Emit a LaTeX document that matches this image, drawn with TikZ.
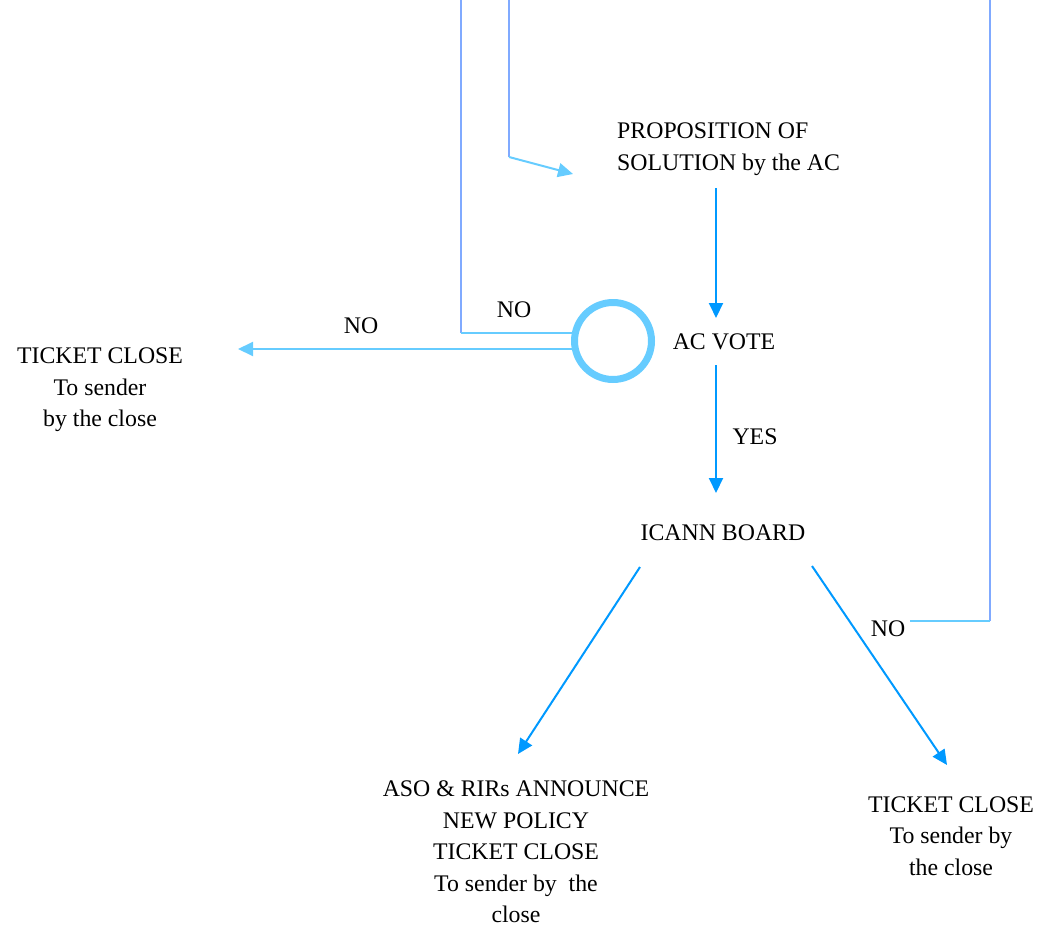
\documentclass[tikz,border=0pt]{standalone}
\usepackage{fontspec}
\setmainfont{Liberation Serif}
\newfontfamily\serf{Liberation Serif}
\usetikzlibrary{arrows.meta}
\definecolor{peri}{HTML}{80AAFF}
\definecolor{lblue}{HTML}{66CCFF}
\definecolor{dblue}{HTML}{0099FF}
\tikzset{
  txt/.style={font=\serf\fontsize{23.8}{31.5}\selectfont, align=center, inner sep=0pt},
  lbl/.style={font=\serf\fontsize{23.8}{31.5}\selectfont, inner sep=0pt},
  tip/.style={-{Triangle[length=15pt,width=14pt]}},
  darr/.style={tip, draw=dblue, fill=dblue, line width=2pt},
  larr/.style={tip, draw=lblue, fill=lblue, line width=2pt},
  pline/.style={draw=peri, line width=2pt},
  lline/.style={draw=lblue, line width=2pt},
}
\begin{document}
\begin{tikzpicture}[x=1pt,y=-1pt]
\useasboundingbox (0,0) rectangle (1043,926);
% text nodes
\node[txt, align=left, anchor=west] (prop) at (617,149) {PROPOSITION OF\\SOLUTION by the AC};
\node[txt] (acvote) at (724,342) {AC VOTE};
\node[txt] (icann) at (723,533) {ICANN BOARD};
\node[txt] (leftclose) at (100,390) {TICKET CLOSE\\To sender\\by the close};
\node[txt] (aso) at (516,852) {ASO \& RIRs ANNOUNCE\\NEW POLICY\\TICKET CLOSE\\To sender by\ \ the\\close};
\node[txt] (rightclose) at (951,836) {TICKET CLOSE\\To sender by\\the close};
% labels
\node[lbl] (noleft) at (361,326) {NO};
\node[lbl] (noloop) at (514,310) {NO};
\node[lbl] (yes) at (755,437) {YES};
\node[lbl] (noright) at (888,629) {NO};
% coordinates
\coordinate (topA) at (461,0);
\coordinate (cornA) at (461,333);
\coordinate (inA) at (590,333);
\coordinate (topB) at (509,0);
\coordinate (cornB) at (509,157);
\coordinate (tipB) at (573,174);
\coordinate (topC) at (990,0);
\coordinate (cornC) at (990,621);
\coordinate (outC) at (910,621);
\coordinate (fromCirc) at (590,349);
\coordinate (tipLeft) at (238,349);
\coordinate (s1) at (716,188);
\coordinate (t1) at (716,318);
\coordinate (s2) at (716,365);
\coordinate (t2) at (716,493);
\coordinate (s3) at (640,567);
\coordinate (t3) at (518,754);
\coordinate (s4) at (812,566);
\coordinate (t4) at (947,765);
% loops
\draw[pline] (topA) -- (cornA);
\draw[lline] (cornA) -- (inA);
\draw[pline] (topB) -- (cornB);
\draw[larr] (cornB) -- (tipB);
\draw[pline] (topC) -- (cornC);
\draw[lline] (cornC) -- (outC);
% arrows
\draw[larr] (fromCirc) -- (tipLeft);
\draw[darr] (s1) -- (t1);
\draw[darr] (s2) -- (t2);
\draw[darr] (s3) -- (t3);
\draw[darr] (s4) -- (t4);
% circle
\node[circle, draw=lblue, fill=white, line width=7pt, minimum size=77pt, inner sep=0pt] (vote) at (613,341) {};
\end{tikzpicture}
\end{document}
